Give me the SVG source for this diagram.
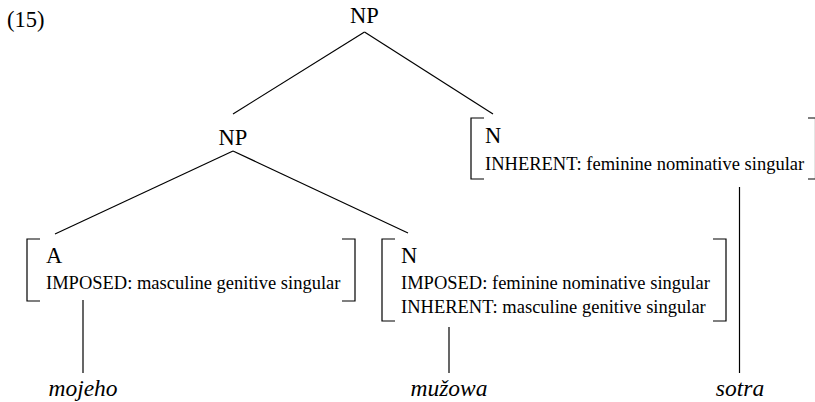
<svg xmlns="http://www.w3.org/2000/svg" width="815" height="402" viewBox="0 0 815 402">
<style>
.lbl{font-family:"Liberation Serif","Times New Roman",serif;font-size:22.5px;fill:#000}
.ft{font-family:"Liberation Serif","Times New Roman",serif;font-size:18.5px;fill:#000}
.w{font-family:"Liberation Serif","Times New Roman",serif;font-size:23.5px;font-style:italic;fill:#000;text-anchor:middle}
.ln{stroke:#000;stroke-width:1.2;fill:none}
.br{stroke:#000;stroke-width:1.2;fill:none}
</style>
<rect width="815" height="402" fill="#fff"/>
<text class="lbl" x="7" y="27">(15)</text>
<g id="np-top"><text class="lbl" x="364.5" y="23" text-anchor="middle">NP</text></g>
<g id="np-mid"><text class="lbl" x="233" y="145" text-anchor="middle">NP</text></g>
<g id="a-node">
<path class="br" d="M40,239 H27 V301 H40 M342,239 H355 V301 H342"/>
<text class="lbl" x="46" y="263">A</text>
<text class="ft" x="46" y="289">IMPOSED: masculine genitive singular</text>
</g>
<g id="n-mid">
<path class="br" d="M395,239 H382 V321 H395 M713,239 H726 V321 H713"/>
<text class="lbl" x="401" y="263">N</text>
<text class="ft" x="401" y="289">IMPOSED: feminine nominative singular</text>
<text class="ft" x="401" y="313">INHERENT: masculine genitive singular</text>
</g>
<g id="n-right">
<path class="br" d="M484,118 H471 V179 H484 M808,118 H815.5 V179 H808"/>
<text class="lbl" x="485" y="143">N</text>
<text class="ft" x="485" y="170">INHERENT: feminine nominative singular</text>
</g>
<g id="w-mojeho"><text class="w" x="83" y="396">mojeho</text></g>
<g id="w-muzowa"><text class="w" x="449" y="396">mužowa</text></g>
<g id="w-sotra"><text class="w" x="740" y="396">sotra</text></g>
<g id="connectors">
<line class="ln" x1="364.5" y1="32" x2="233" y2="114"/>
<line class="ln" x1="364.5" y1="32" x2="493" y2="114"/>
<line class="ln" x1="233" y1="151" x2="55" y2="234"/>
<line class="ln" x1="233" y1="151" x2="408" y2="233"/>
<line class="ln" x1="83" y1="300" x2="83" y2="373"/>
<line class="ln" x1="449" y1="327" x2="449" y2="373"/>
<line class="ln" x1="739.5" y1="187" x2="739.5" y2="373"/>
</g>
</svg>
